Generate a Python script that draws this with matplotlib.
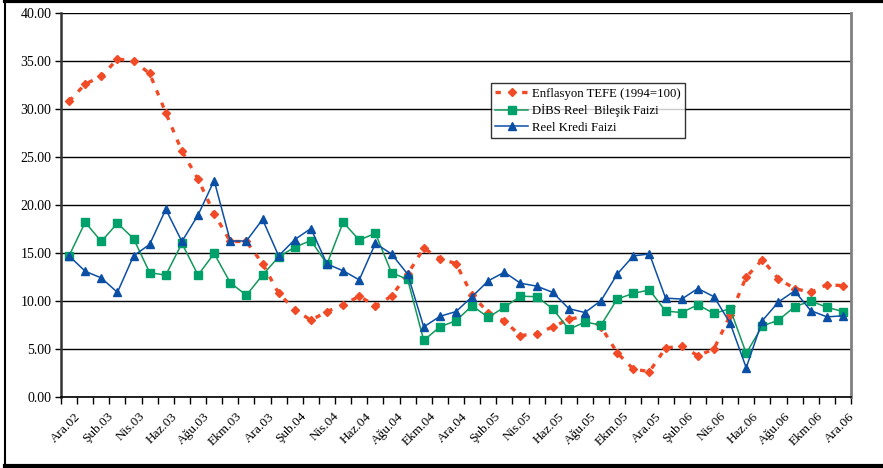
import numpy as np
import matplotlib
matplotlib.use("Agg")
import matplotlib.pyplot as plt
from matplotlib.lines import Line2D

plt.rcParams['font.family'] = ['Liberation Serif', 'DejaVu Serif']

# === data (Ara.02 .. Ara.06, aylik) ===
months = ["Ara", "Oca", "Şub", "Mar", "Nis", "May", "Haz",
          "Tem", "Ağu", "Eyl", "Ekm", "Kas"]
years = ["02"] + ["03"] * 12 + ["04"] * 12 + ["05"] * 12 + ["06"] * 12
periods = [f"{months[i % 12]}.{years[i]}" for i in range(49)]

tefe = [30.8, 32.6, 33.4, 35.2, 35.0, 33.7, 29.6, 25.6, 22.7, 19.1,
        16.2, 16.2, 13.9, 10.8, 9.1, 8.0, 8.9, 9.6, 10.5, 9.5,
        10.5, 12.8, 15.5, 14.4, 13.9, 10.6, 8.8, 7.9, 6.4, 6.6,
        7.3, 8.1, 8.4, 7.3, 4.6, 2.9, 2.65, 5.1, 5.3, 4.3,
        5.0, 8.5, 12.5, 14.3, 12.3, 11.3, 10.9, 11.7, 11.6]

dibs = [14.7, 18.2, 16.2, 18.1, 16.5, 12.95, 12.7, 16.0, 12.7, 14.95,
        11.9, 10.6, 12.7, 14.6, 15.6, 16.3, 13.85, 18.2, 16.35, 17.05,
        12.95, 12.25, 5.9, 7.3, 7.95, 9.5, 8.3, 9.35, 10.5, 10.45,
        9.2, 7.05, 7.8, 7.5, 10.2, 10.8, 11.15, 8.95, 8.8, 9.6,
        8.7, 9.2, 4.55, 7.4, 8.0, 9.4, 10.0, 9.35, 8.9]

kredi = [14.7, 13.1, 12.4, 10.9, 14.7, 15.9, 19.55, 16.2, 18.95, 22.55,
         16.25, 16.25, 18.5, 14.7, 16.4, 17.55, 13.85, 13.15, 12.2, 16.0,
         14.9, 12.8, 7.3, 8.4, 8.9, 10.45, 12.1, 13.0, 11.85, 11.55,
         10.9, 9.2, 8.8, 10.05, 12.8, 14.7, 14.9, 10.3, 10.2, 11.3,
         10.45, 7.7, 3.05, 7.95, 9.9, 11.05, 9.0, 8.35, 8.45]

labels = ["Enflasyon TEFE (1994=100)", "DİBS Reel  Bileşik Faizi", "Reel Kredi Faizi"]

red = "#F04A26"
green = "#12985A"
blue = "#0B4FA5"

fig = plt.figure(figsize=(8.83, 4.68), dpi=100)
ax = fig.add_axes([61 / 883, 1 - 397 / 468, 790 / 883, 384 / 468])

x = np.arange(len(periods))
ax.plot(x, tefe, color=red, linestyle=(0, (1.6, 2.4)), linewidth=2.4,
        marker='D', markersize=4.5, markeredgecolor=red, markerfacecolor=red,
        label=labels[0], zorder=3)
ax.plot(x, dibs, color=green, linewidth=1.1, marker='s', markersize=5.5,
        markerfacecolor="#00A06A", markeredgecolor="#00A06A",
        label=labels[1], zorder=4)
ax.plot(x, kredi, color=blue, linewidth=1.1, marker='^', markersize=6,
        markerfacecolor=blue, markeredgecolor=blue,
        label=labels[2], zorder=5)

ax.set_xlim(-0.5, len(periods) - 0.5)
ax.set_ylim(0, 40)
ax.set_yticks(np.arange(0, 40.1, 5))
ax.set_yticklabels([f"{v:.2f}" for v in np.arange(0, 40.1, 5)], fontsize=10)
ax.yaxis.grid(True, color="black", linewidth=1.0)
ax.set_axisbelow(True)

# kategori sinirlarinda tick, etiketler her iki ayda bir
ax.set_xticks(np.arange(-0.5, len(periods), 1))
ax.set_xticklabels([])
ax.tick_params(axis='x', length=5, width=1, color="black", direction='out')
ax.tick_params(axis='y', length=4, width=1, color="black", direction='out', pad=3)
for i in range(0, len(periods), 2):
    ax.text(i + 0.35, -1.4, periods[i], rotation=45, ha='right', va='top',
            rotation_mode='anchor', fontsize=9.5)

ax.spines['top'].set_visible(False)
ax.spines['left'].set_linewidth(1.8)
ax.spines['left'].set_color("#333333")
ax.spines['bottom'].set_linewidth(1.2)
ax.spines['right'].set_color("#808080")
ax.spines['right'].set_linewidth(2)

leg = ax.legend(loc='upper left', bbox_to_anchor=(0.544, 0.817), fontsize=9.2,
                frameon=True, fancybox=False, edgecolor="black",
                handlelength=2.6, borderpad=0.35, labelspacing=0.35,
                handletextpad=0.3, borderaxespad=0)
leg.get_frame().set_linewidth(1.0)

# cerceve
fig.add_artist(Line2D([5 / 883, 5 / 883], [0.5 / 468, 1 - 1 / 468], transform=fig.transFigure,
                      color="black", linewidth=1.5))
fig.add_artist(Line2D([5 / 883, 1], [1 - 1 / 468, 1 - 1 / 468], transform=fig.transFigure,
                      color="black", linewidth=3))
fig.add_artist(Line2D([5 / 883, 1], [2 / 468, 2 / 468], transform=fig.transFigure,
                      color="black", linewidth=3))

fig.savefig("out.png", dpi=100)
